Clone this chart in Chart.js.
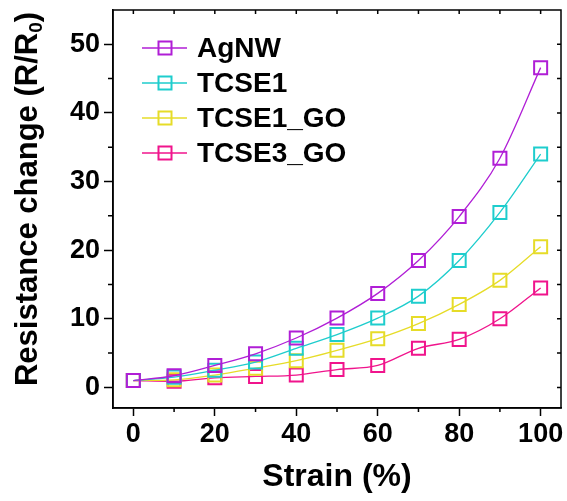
<!DOCTYPE html>
<html>
<head>
<meta charset="utf-8">
<script src="https://cdn.jsdelivr.net/npm/chart.js@4"></script>
<style>
  html, body { margin: 0; padding: 0; background: #fff; }
  #wrap { width: 567px; height: 501px; }
</style>
</head>
<body>
<div id="wrap"><canvas id="chart" width="567" height="501"></canvas></div>
<script>
// strain steps (%)
const strain = [0, 10, 20, 30, 40, 50, 60, 70, 80, 90, 100];

// R/R0 for each film
const agnw    = [1.0, 1.7, 3.2, 4.9, 7.2, 10.1, 13.7, 18.5, 24.9, 33.4, 46.6];
const tcse1   = [1.0, 1.5, 2.5, 3.7, 5.7, 7.7, 10.1, 13.3, 18.5, 25.5, 34.0];
const tcse1Go = [1.0, 1.1, 1.8, 2.8, 3.9, 5.4, 7.1, 9.3, 12.1, 15.6, 20.5];
const tcse3Go = [1.0, 0.9, 1.4, 1.6, 1.8, 2.6, 3.2, 5.7, 7.0, 10.0, 14.5];

const seriesNames = ['AgNW', 'TCSE1', 'TCSE1_GO', 'TCSE3_GO'];
const seriesColors = ['#b01ed6', '#1ecdcd', '#e6dc28', '#f0148c'];

const xMajor = [0, 20, 40, 60, 80, 100];
const yMajor = [0, 10, 20, 30, 40, 50];

const FONT = '"Liberation Sans", Arial, sans-serif';

function makeSet(name, values, color) {
    return {
        label: name,
        data: strain.map((x, i) => ({ x: x, y: values[i] })),
        borderColor: color,
        borderWidth: 1.3,
        pointStyle: 'rect',
        pointRadius: 9.2,
        pointBorderWidth: 2,
        pointBorderColor: color,
        pointBackgroundColor: 'rgba(0,0,0,0)',
        cubicInterpolationMode: 'monotone',
        fill: false
    };
}

// no extra room for label overhang, the plot box is fixed
function noOverhang(s) {
    s.paddingTop = 0;
    s.paddingBottom = 0;
    s.paddingLeft = 0;
    s.paddingRight = 0;
}

// frame, inward ticks on top/right, minor ticks, legend and axis titles
const decorations = {
    id: 'decorations',
    afterDraw(chart) {
        const ctx = chart.ctx;
        const a = chart.chartArea;
        const xs = chart.scales.x;
        const ys = chart.scales.y;
        ctx.save();
        ctx.strokeStyle = '#000';
        ctx.lineWidth = 1.5;
        ctx.strokeRect(a.left, a.top, a.right - a.left, a.bottom - a.top);

        ctx.beginPath();
        for (let v = 0; v <= 100; v += 10) {
            const px = xs.getPixelForValue(v);
            ctx.moveTo(px, a.top);
            ctx.lineTo(px, a.top + 4);
            if (v % 20 !== 0) {
                ctx.moveTo(px, a.bottom);
                ctx.lineTo(px, a.bottom + 4);
            }
        }
        for (let v = 0; v <= 50; v += 5) {
            const py = ys.getPixelForValue(v);
            ctx.moveTo(a.right, py);
            ctx.lineTo(a.right - 4, py);
            if (v % 10 !== 0) {
                ctx.moveTo(a.left, py);
                ctx.lineTo(a.left - 5, py);
            }
        }
        ctx.stroke();

        // legend
        chart.data.datasets.forEach((ds, i) => {
            const y = 48 + i * 35;
            ctx.strokeStyle = ds.borderColor;
            ctx.lineWidth = 1.3;
            ctx.beginPath();
            ctx.moveTo(142, y);
            ctx.lineTo(187, y);
            ctx.stroke();
            ctx.lineWidth = 2;
            ctx.strokeRect(165 - 6.5, y - 6.5, 13, 13);
            ctx.fillStyle = '#000';
            ctx.font = 'bold 28px ' + FONT;
            ctx.textAlign = 'left';
            ctx.textBaseline = 'alphabetic';
            ctx.fillText(ds.label, 197, y + 9);
        });

        // x title
        ctx.fillStyle = '#000';
        ctx.font = 'bold 32px ' + FONT;
        ctx.textAlign = 'center';
        ctx.textBaseline = 'alphabetic';
        ctx.fillText('Strain (%)', (a.left + a.right) / 2, 486);

        // y title with subscript
        const main = 'Resistance change (R/R';
        const sub = '0';
        const tail = ')';
        ctx.font = 'bold 31px ' + FONT;
        const wMain = ctx.measureText(main).width;
        const wTail = ctx.measureText(tail).width;
        ctx.font = 'bold 19px ' + FONT;
        const wSub = ctx.measureText(sub).width;
        const total = wMain + wSub + wTail;
        ctx.translate(37, 199);
        ctx.rotate(-Math.PI / 2);
        ctx.textAlign = 'left';
        let x0 = -total / 2;
        ctx.font = 'bold 31px ' + FONT;
        ctx.fillText(main, x0, 0);
        ctx.font = 'bold 19px ' + FONT;
        ctx.fillText(sub, x0 + wMain, 5);
        ctx.font = 'bold 31px ' + FONT;
        ctx.fillText(tail, x0 + wMain + wSub, 0);
        ctx.restore();
    }
};

new Chart(document.getElementById('chart'), {
    type: 'line',
    data: {
        datasets: [
            makeSet(seriesNames[0], agnw, seriesColors[0]),
            makeSet(seriesNames[1], tcse1, seriesColors[1]),
            makeSet(seriesNames[2], tcse1Go, seriesColors[2]),
            makeSet(seriesNames[3], tcse3Go, seriesColors[3])
        ]
    },
    options: {
        responsive: false,
        animation: false,
        layout: { autoPadding: false, padding: { top: 10, right: 6, left: 0, bottom: 0 } },
        plugins: {
            legend: { display: false },
            tooltip: { enabled: false }
        },
        scales: {
            x: {
                type: 'linear',
                min: -5,
                max: 105,
                afterBuildTicks: s => { s.ticks = xMajor.map(v => ({ value: v })); },
                afterFit: s => { s.height = 93; noOverhang(s); },
                grid: { drawOnChartArea: false, drawTicks: true, tickLength: 8, tickWidth: 1.5, tickColor: '#000' },
                border: { display: true, color: '#000', width: 1.5 },
                ticks: {
                    color: '#000',
                    padding: 2,
                    maxRotation: 0,
                    font: { family: FONT, size: 27, weight: 'bold' }
                }
            },
            y: {
                type: 'linear',
                min: -3,
                max: 55,
                afterBuildTicks: s => { s.ticks = yMajor.map(v => ({ value: v })); },
                afterFit: s => { s.width = 113; noOverhang(s); },
                grid: { drawOnChartArea: false, drawTicks: true, tickLength: 9, tickWidth: 1.5, tickColor: '#000' },
                border: { display: true, color: '#000', width: 1.5 },
                ticks: {
                    color: '#000',
                    padding: 4,
                    font: { family: FONT, size: 27, weight: 'bold' }
                }
            }
        }
    },
    plugins: [decorations]
});
</script>
</body>
</html>
